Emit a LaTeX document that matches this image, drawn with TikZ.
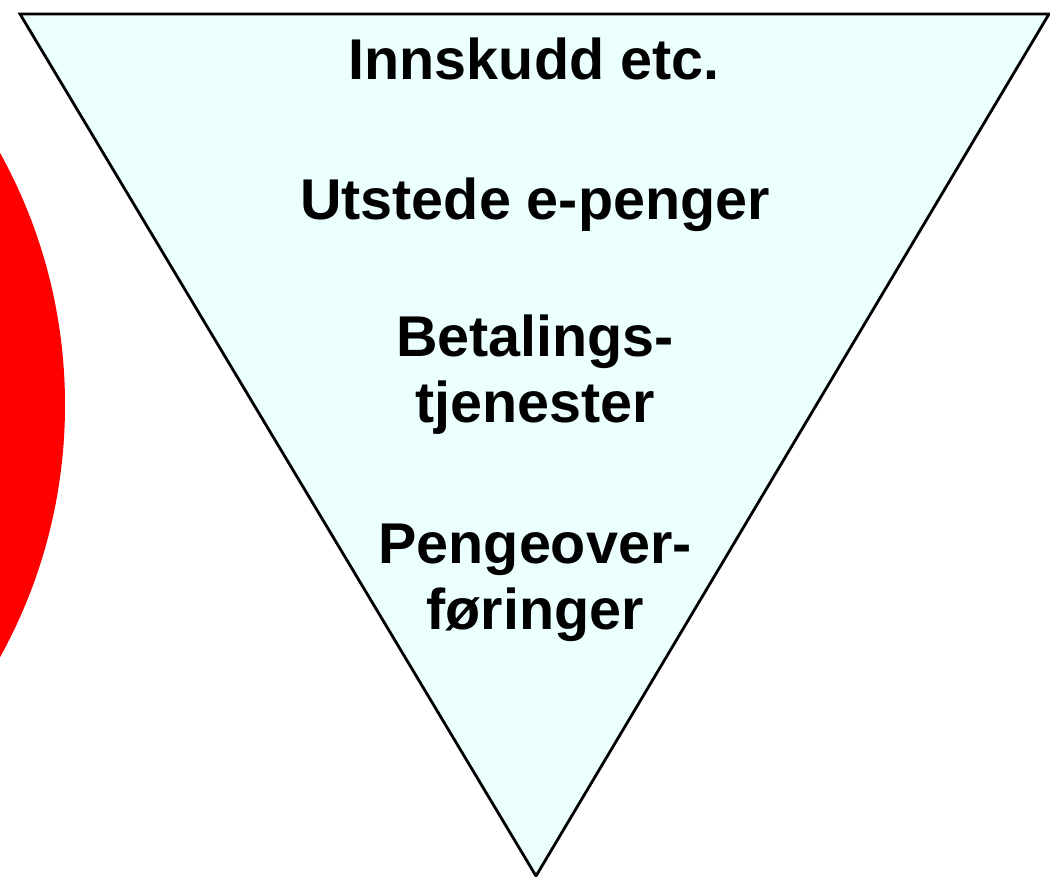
\documentclass[tikz,border=0pt]{standalone}
\usepackage{fontspec}
\setmainfont{Liberation Sans}
\definecolor{paleCyan}{RGB}{236,255,255}
\definecolor{brightRed}{RGB}{255,0,0}
\begin{document}
\begin{tikzpicture}[x=1pt,y=-1pt,
  label text/.style={font=\bfseries\fontsize{57.5}{65.5}\selectfont, inner sep=0pt, anchor=base, align=center},
  funnel/.style={fill=paleCyan, draw=black, line width=2.8pt, line join=miter}]
  \useasboundingbox (0,0) rectangle (1050,876);
  \clip (0,0) rectangle (1050,876);
  % red disc at the left edge
  \fill[brightRed] (-456,405) circle[radius=521];
  % inverted triangle
  \coordinate (tl) at (20,14);
  \coordinate (tr) at (1049,14);
  \coordinate (tip) at (536,876);
  \draw[funnel] (tl) -- (tr) -- (tip) -- cycle;
  % labels (two-line labels are placed by the baseline of their last line)
  \node[label text] (innskudd) at (534,79) {Innskudd etc.};
  \node[label text] (utstede) at (535,219) {Utstede e-penger};
  \node[label text] (betaling) at (535,422) {Betalings-\\tjenester};
  \node[label text] (penge) at (535,629) {Pengeover-\\føringer};
\end{tikzpicture}
\end{document}
